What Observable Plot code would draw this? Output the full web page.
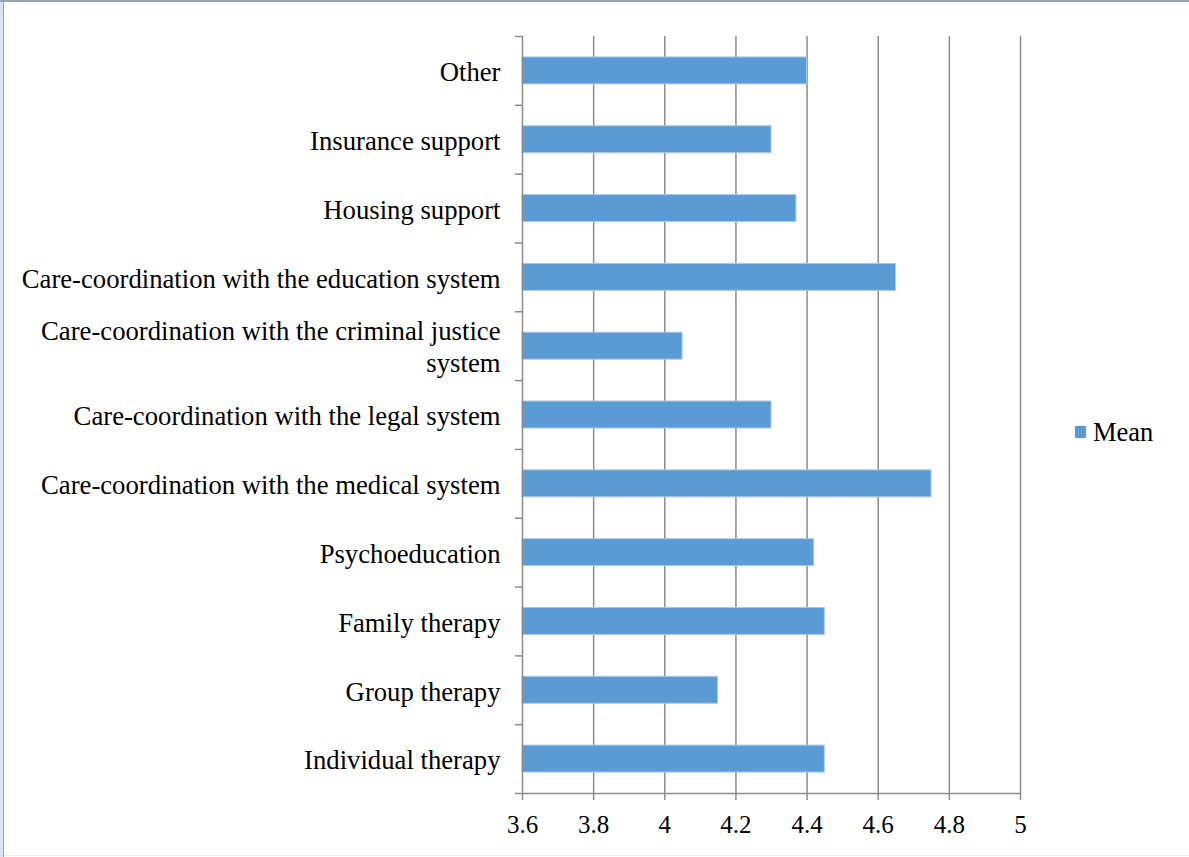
<!DOCTYPE html>
<html>
<head>
<meta charset="utf-8">
<script src="https://cdn.jsdelivr.net/npm/d3@7"></script>
<script src="https://cdn.jsdelivr.net/npm/@observablehq/plot@0.6"></script>
<style>
  html, body { margin: 0; padding: 0; background: #fff; }
  #wrap { position: relative; width: 1189px; height: 857px; overflow: hidden; }
  #chart { position: absolute; left: 0; top: 0; }
  .edge { position: absolute; }
  #legend { position: absolute; left: 1075px; top: 417px; height: 30px; display: flex; align-items: center;
            font-family: 'Liberation Serif', 'Times New Roman', serif; font-size: 26.5px; color: #000; }
  #legend .sw { width: 11px; height: 12px; background: #5b9bd5; margin-right: 7px; }
</style>
</head>
<body>
<div id="wrap">
  <div id="chart"></div>
  <div class="edge" style="left:0;top:0;width:3px;height:857px;background:#d6e4f3;"></div>
  <div class="edge" style="left:3px;top:0;width:1px;height:857px;background:#9aa2ac;"></div>
  <div class="edge" style="left:0;top:0;width:1189px;height:2px;background:#9aa2ac;"></div>
  <div class="edge" style="left:4px;top:855px;width:1185px;height:1px;background:#eeeeee;"></div>
  <div id="legend"></div>
</div>
<script>
const categories = [
  "Other",
  "Insurance support",
  "Housing support",
  "Care-coordination with the education system",
  "Care-coordination with the criminal justice\nsystem",
  "Care-coordination with the legal system",
  "Care-coordination with the medical system",
  "Psychoeducation",
  "Family therapy",
  "Group therapy",
  "Individual therapy"
];
const means = [4.40, 4.30, 4.37, 4.65, 4.05, 4.30, 4.75, 4.42, 4.45, 4.15, 4.45];
const xTicks = [3.6, 3.8, 4, 4.2, 4.4, 4.6, 4.8, 5];
const seriesName = "Mean";

const n = categories.length;
const data = categories.map((label, i) => ({label, i, mean: means[i]}));
const boundaries = d3.range(n + 1).map(k => k - 0.5);
const gray = "#8c8c8c";

const chart = Plot.plot({
  width: 1189,
  height: 857,
  marginLeft: 522,
  marginRight: 169,
  marginTop: 36,
  marginBottom: 64,
  style: {fontFamily: "'Liberation Serif', 'Times New Roman', serif", fontSize: "25px", color: "#000", background: "transparent"},
  x: {domain: [xTicks[0], xTicks[xTicks.length - 1]], label: null},
  y: {domain: [-0.5, n - 0.5], reverse: true, label: null},
  marks: [
    Plot.ruleX(xTicks.slice(1), {stroke: gray, strokeWidth: 1.5}),
    Plot.rectX(data, {
      x1: () => xTicks[0], x2: "mean",
      y1: d => d.i - 0.196, y2: d => d.i + 0.196,
      fill: "#5b9bd5", stroke: "#a9c9ea", strokeWidth: 1
    }),
    Plot.ruleX([xTicks[0]], {stroke: gray, strokeWidth: 1.5}),
    Plot.ruleY([n - 0.5], {stroke: gray, strokeWidth: 1.5}),
    Plot.axisY({ticks: boundaries, tickSize: 7, tickFormat: () => "", stroke: gray, strokeWidth: 1.5, label: null}),
    Plot.axisX({ticks: xTicks, tickSize: 7, tickPadding: 15, tickFormat: d => String(d), stroke: gray, strokeWidth: 1.5, label: null, fontSize: 25}),
    Plot.text(data, {x: () => xTicks[0], y: "i", text: "label", textAnchor: "end", dx: -22, lineHeight: 1.2, fontSize: 26.7, fill: "#000"})
  ]
});
document.getElementById("chart").appendChild(chart);

const legend = document.getElementById("legend");
const sw = document.createElement("div"); sw.className = "sw";
const lt = document.createElement("span"); lt.textContent = seriesName;
legend.appendChild(sw); legend.appendChild(lt);
</script>
</body>
</html>
